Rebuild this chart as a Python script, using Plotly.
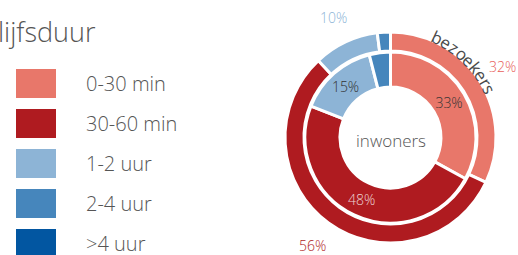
import math
import plotly.graph_objects as go

# ---- data ----
categories = ["0-30 min", "30-60 min", "1-2 uur", "2-4 uur", ">4 uur"]
colors = ["#E8776A", "#AF1B20", "#8DB4D6", "#4686BC", "#0256A1"]
bezoekers = [32, 56, 10, 2, 0]
inwoners = [33, 48, 15, 4, 0]
outer_label_colors = ["#E8605A", "#B01E26", "#8DB4D6", "#4686BC", "#0256A1"]
inner_label_colors = ["#333333", "rgba(255,255,255,0.8)", "#333333", "#333333", "#333333"]
title_text = "Verblijfsduur"
outer_name = "bezoekers"
inner_name = "inwoners"

W, H = 518, 255
FONT = "Open Sans"
WEIGHT = 300
GRAY = "#555555"

# ---- geometry (pixels) ----
cx, cy = 390.5, 137.5
r_out, h_out = 105.5, 86.5
r_in, h_in = 85.5, 50.5


def dom(r):
    return dict(x=[(cx - r) / W, (cx + r) / W],
                y=[(H - cy - r) / H, (H - cy + r) / H])


def pct_text(vals, minv=5):
    return [f"{v}%" if v >= minv else "" for v in vals]


def f(size, color=GRAY, weight=WEIGHT):
    return dict(family=FONT, size=size, color=color, weight=weight)


fig = go.Figure()
fig.add_trace(go.Pie(
    labels=categories, values=bezoekers,
    textinfo="none", sort=False, direction="clockwise",
    rotation=0, hole=h_out / r_out, domain=dom(r_out),
    marker=dict(colors=colors, line=dict(color="white", width=3)),
    showlegend=False, hoverinfo="label+percent", name=outer_name,
))
fig.add_trace(go.Pie(
    labels=categories, values=inwoners, text=pct_text(inwoners),
    textinfo="text", textposition="inside", insidetextorientation="horizontal",
    sort=False, direction="clockwise", rotation=0,
    hole=h_in / r_in, domain=dom(r_in),
    marker=dict(colors=colors, line=dict(color="white", width=3)),
    textfont=dict(family=FONT, size=14, color=inner_label_colors, weight=WEIGHT),
    showlegend=False, hoverinfo="label+percent", name=inner_name,
))

annotations = []
shapes = []

# outer ring labels, placed along each slice's mid angle
total = sum(bezoekers)
acc = 0
r_lab = 133
for v, txt, col in zip(bezoekers, pct_text(bezoekers), outer_label_colors):
    mid = (acc + v / 2) / total * 360
    acc += v
    if not txt:
        continue
    t = math.radians(mid)
    px = cx + r_lab * math.sin(t)
    py = cy - r_lab * math.cos(t)
    annotations.append(dict(text=txt, x=px / W, y=1 - py / H, xref="paper", yref="paper",
                            xanchor="center", yanchor="middle", showarrow=False,
                            font=f(14, col)))

# title (partly cut off on the left, as in the reference)
annotations.append(dict(text=title_text, x=98 / W, y=1 - 31 / H, xref="paper", yref="paper",
                        xanchor="right", yanchor="middle", showarrow=False,
                        font=f(27)))

# custom legend
for i, (cat, col) in enumerate(zip(categories, colors)):
    yc = 83.5 + 40 * i
    shapes.append(dict(type="rect", xref="paper", yref="paper",
                       x0=16 / W, x1=56 / W, y0=1 - (yc + 14.5) / H, y1=1 - (yc - 14.5) / H,
                       fillcolor=col, line=dict(width=0)))
    annotations.append(dict(text=cat, x=84 / W, y=1 - yc / H, xref="paper", yref="paper",
                            xanchor="left", yanchor="middle", showarrow=False,
                            font=f(20)))

# centre label
annotations.append(dict(text=inner_name, x=cx / W, y=1 - 140 / H, xref="paper", yref="paper",
                        xanchor="center", yanchor="middle", showarrow=False,
                        font=f(17)))

# curved label along the outer ring
widths = {"b": .58, "e": .55, "z": .48, "o": .58, "k": .52, "r": .38, "s": .45}
ws = [widths.get(c, .55) for c in outer_name]
start, end = 25.0, 64.0
centers = []
acc = 0
for w in ws:
    centers.append(acc + w / 2)
    acc += w
span = centers[-1] - centers[0]
r_txt = 110
for ch, c in zip(outer_name, centers):
    th = start + (end - start) * (c - centers[0]) / span
    t = math.radians(th)
    px = cx + r_txt * math.sin(t)
    py = cy - r_txt * math.cos(t)
    annotations.append(dict(text=ch, x=px / W, y=1 - py / H, xref="paper", yref="paper",
                            xanchor="center", yanchor="middle", showarrow=False,
                            textangle=th, font=f(17, "#4a4a4a", 400)))

fig.update_layout(width=W, height=H, margin=dict(l=0, r=0, t=0, b=0),
                  paper_bgcolor="white", plot_bgcolor="white",
                  annotations=annotations, shapes=shapes, showlegend=False)

fig.write_html("out.html", config={"displayModeBar": False},
               post_script="document.body.style.margin='0';document.body.style.overflow='hidden';")
